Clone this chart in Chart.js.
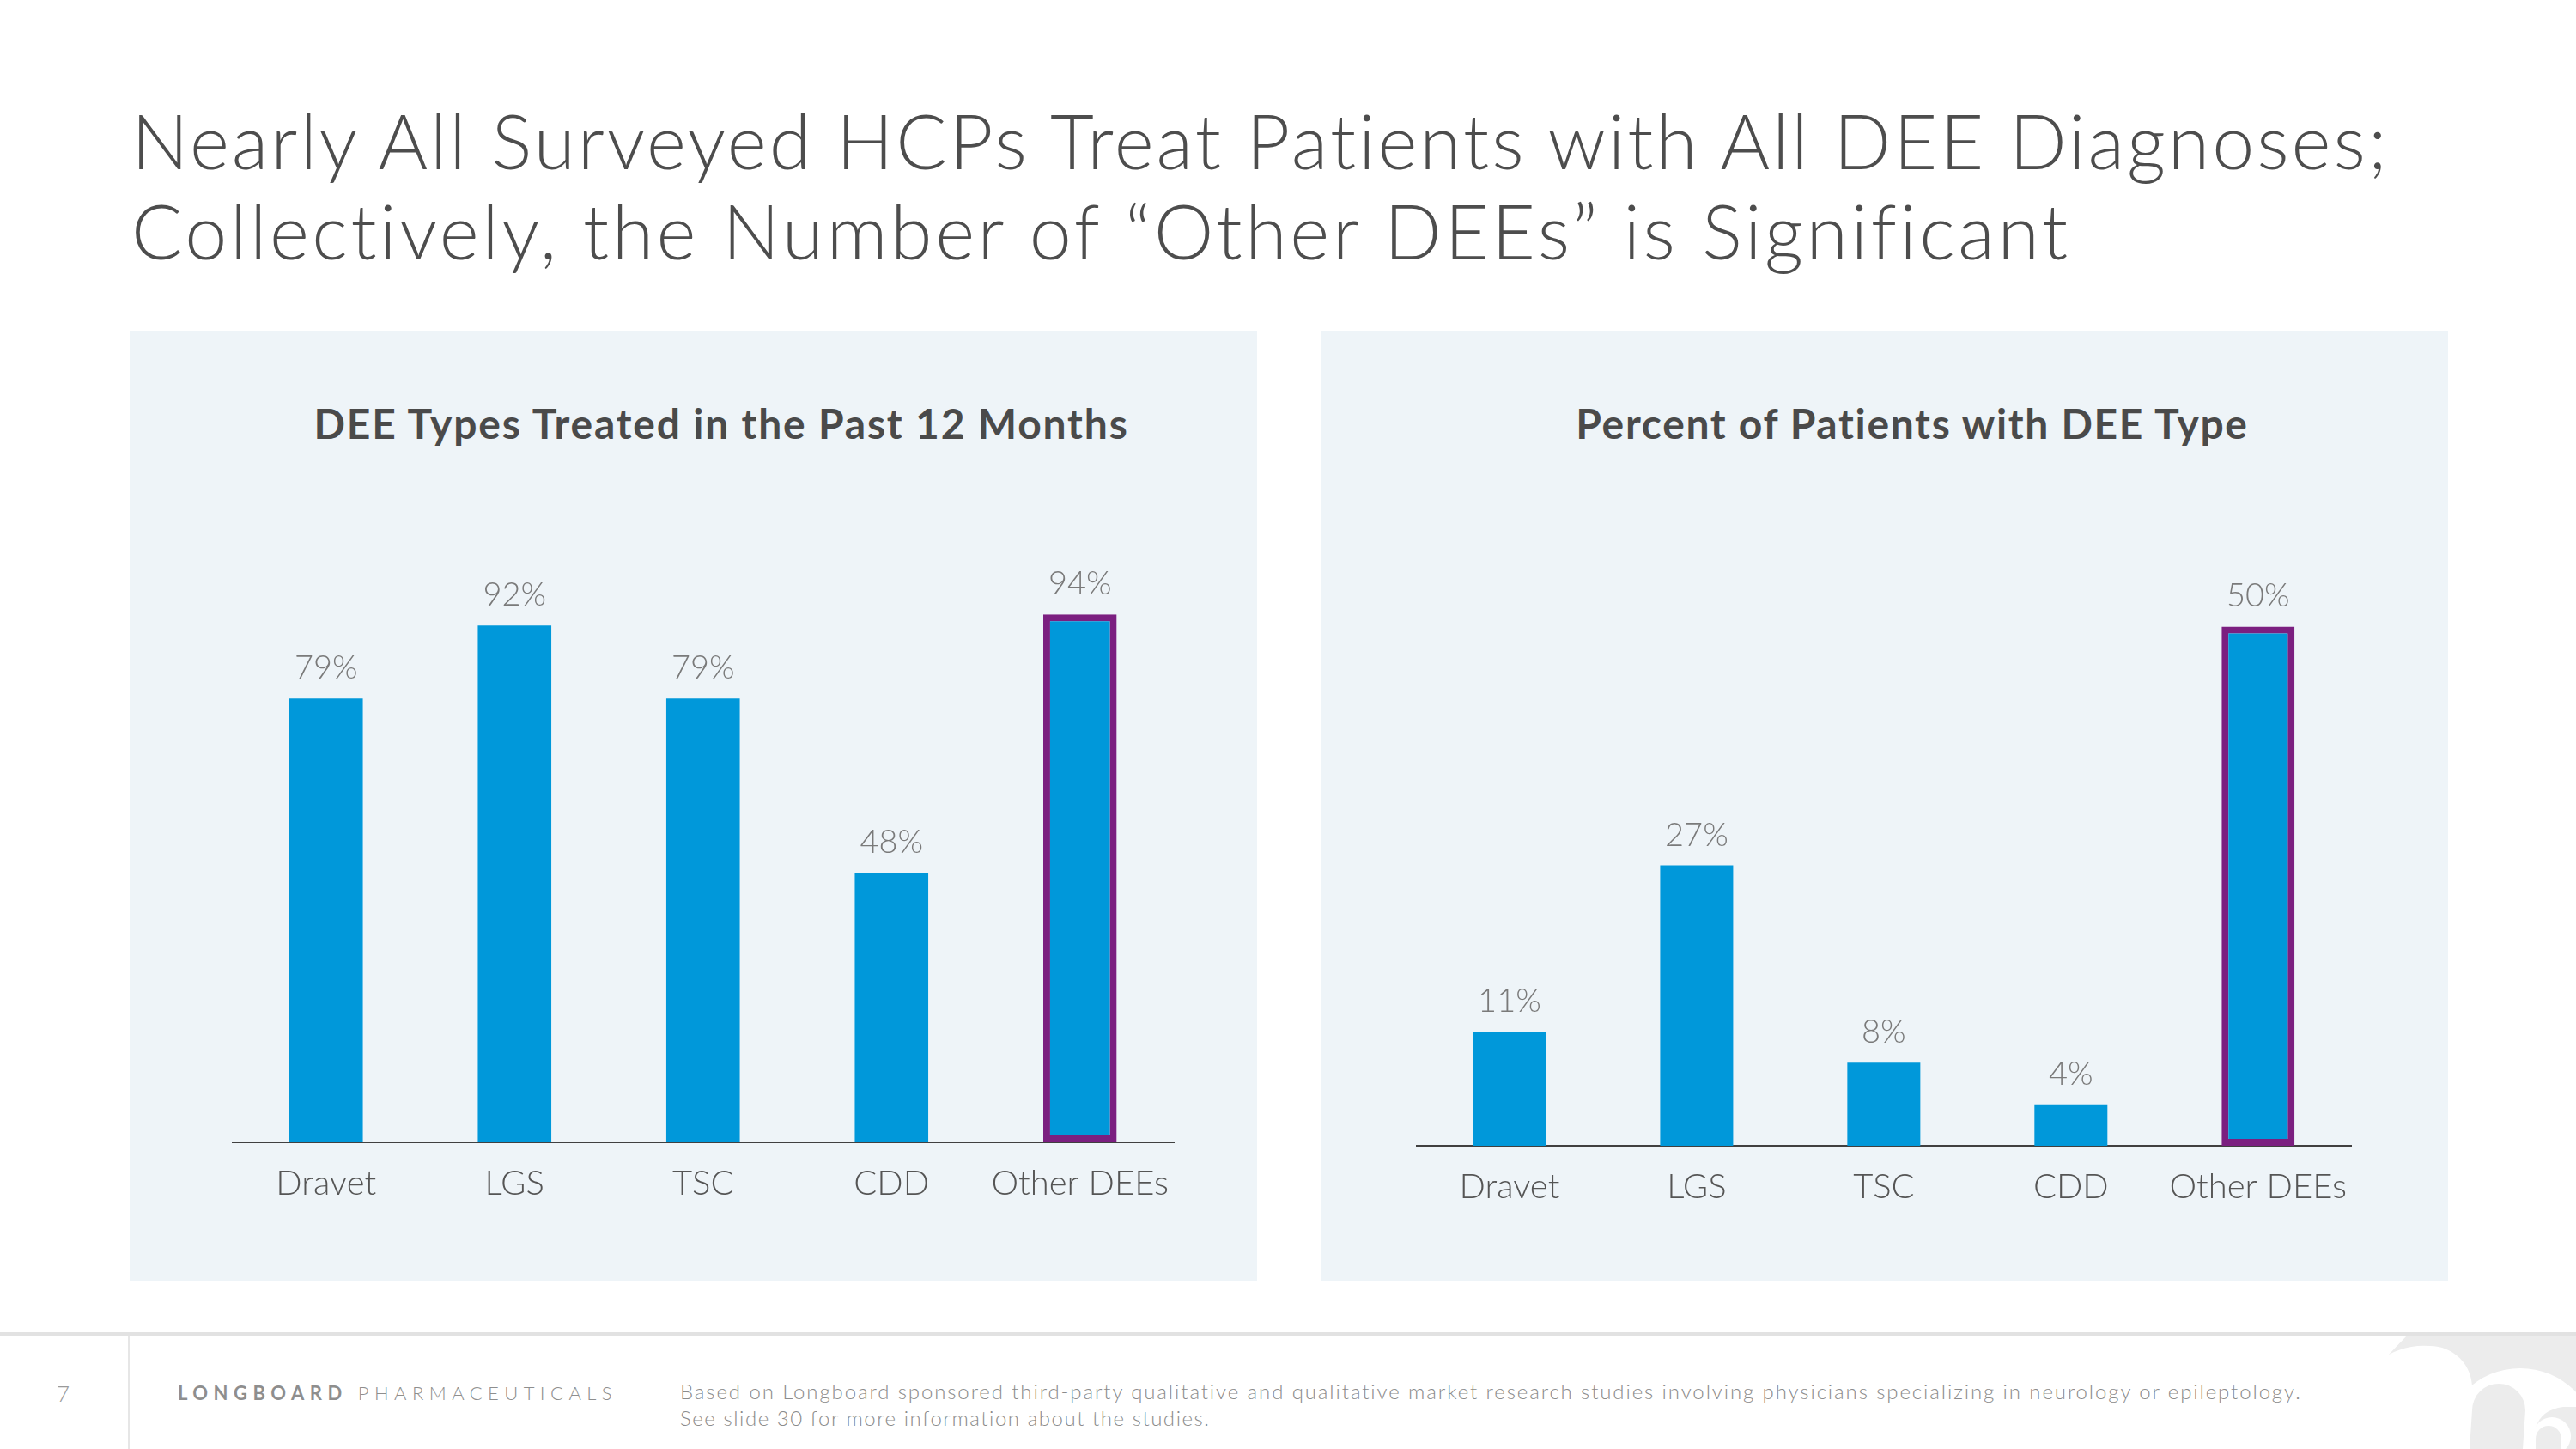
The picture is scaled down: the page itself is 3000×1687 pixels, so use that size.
<!DOCTYPE html>
<html>
<head>
<meta charset="utf-8">
<script src="https://cdn.jsdelivr.net/npm/chart.js@4.4.0/dist/chart.umd.min.js"></script>
<style>
  html, body { margin:0; padding:0; background:#fff; }
  body { width:3000px; height:1687px; position:relative; overflow:hidden; font-family:Lato, "Open Sans", sans-serif; }
  .t { position:absolute; white-space:nowrap; }
  .title { left:153px; font-size:88px; line-height:105px; font-weight:300; color:#4d4d4d; }
  .panel { position:absolute; top:385px; width:1313px; height:1106px; background:#eef4f8; }
  .ptitle { font-size:48px; line-height:58px; font-weight:700; color:#4a4a4a; transform:translateX(-50%); }
  .chartbox { position:absolute; }
  .foot { color:#8c8c8c; font-size:24px; line-height:30px; font-weight:300; }
</style>
</head>
<body>
<div class="t title fit" data-w="2631" style="top:111px">Nearly All Surveyed HCPs Treat Patients with All DEE Diagnoses;</div>
<div class="t title fit" data-w="2258" style="top:216px">Collectively, the Number of “Other DEEs” is Significant</div>

<div class="panel" style="left:151px"></div>
<div class="panel" style="left:1538px"></div>

<div class="t ptitle fit" data-w="949" style="left:840px;top:464px">DEE Types Treated in the Past 12 Months</div>
<div class="t ptitle fit" data-w="784" style="left:2227px;top:464px">Percent of Patients with DEE Type</div>

<div class="chartbox" style="left:270px;top:580px;width:1115px;height:850px"><canvas id="leftChart"></canvas></div>
<div class="chartbox" style="left:1649px;top:580px;width:1108px;height:854px"><canvas id="rightChart"></canvas></div>

<!-- footer -->
<svg style="position:absolute;left:2760px;top:1555px" width="240" height="132" viewBox="2760 1555 240 132">
  <path d="M2803 1555 L3000 1555 L3000 1687 L2760 1687 L2760 1599 L2782 1577 Z" fill="#ececec"/>
  <path d="M2782 1577 Q2805 1565 2830 1567 A49 49 0 0 1 2879 1616 Q2878 1660 2867 1687 L2760 1687 L2760 1577 Z" fill="#ffffff"/>
  <circle cx="2935" cy="1683" r="90" fill="#ffffff"/>
  <path d="M2879 1642 A31 31 0 0 1 2941 1642 L2938 1687 L2876 1687 Z" fill="#ececec"/>
  <path d="M2953 1687 L2953 1662 Q2960 1641 2985 1638 L3000 1638 L3000 1687 Z" fill="#ececec"/>
  <circle cx="2972" cy="1672" r="22" fill="#ffffff"/>
  <path d="M2953 1675 A15 15 0 0 1 2983 1675 L2983 1687 L2953 1687 Z" fill="#ececec"/>
</svg>
<div style="position:absolute;left:0;top:1551px;width:3000px;height:4px;background:#e2e2e2"></div>
<div style="position:absolute;left:149px;top:1555px;width:2px;height:132px;background:#e6e6e6"></div>
<div class="t foot" style="left:66px;top:1607px;font-size:26px;color:#9a9a9a">7</div>
<div class="t foot fit" data-w="512" style="left:207px;top:1607px;font-size:22px;color:#8e8e8e;font-weight:400"><b style="font-weight:700">LONGBOARD</b> <span style="font-weight:300">PHARMACEUTICALS</span></div>
<div class="t foot fit" data-w="1890" style="left:792px;top:1605px">Based on Longboard sponsored third-party qualitative and qualitative market research studies involving physicians specializing in neurology or epileptology.</div>
<div class="t foot fit" data-w="618" style="left:792px;top:1636px">See slide 30 for more information about the studies.</div>

<script>
// data
const categories = ["Dravet", "LGS", "TSC", "CDD", "Other DEEs"];
const treatedPct = [79, 92, 79, 48, 94];
const patientPct = [11, 27, 8, 4, 50];

const barBlue = "#0098da";
const purple = "#7b1f80";

// draws "xx%" above each bar
const valueLabels = {
  id: 'valueLabels',
  afterDatasetsDraw(chart) {
    const ctx = chart.ctx;
    const meta = chart.getDatasetMeta(0);
    ctx.save();
    ctx.font = '300 38px Lato, "Open Sans", sans-serif';
    ctx.fillStyle = '#7a7a7a';
    ctx.textAlign = 'center';
    ctx.textBaseline = 'alphabetic';
    meta.data.forEach((bar, i) => {
      ctx.fillText(chart.data.datasets[0].data[i] + '%', bar.x, bar.y - 23);
    });
    ctx.restore();
  }
};

function makeChart(id, values, max, padTop){
  var ctx = document.getElementById(id).getContext('2d');
  return new Chart(ctx, {
    type: 'bar',
    data: {
      labels: categories,
      datasets: [{
        data: values,
        backgroundColor: barBlue,
        borderColor: values.map((v, i) => i == values.length - 1 ? purple : barBlue),
        borderWidth: values.map((v, i) => i == values.length - 1 ? 8 : 0),
        borderSkipped: false,
        categoryPercentage: 1,
        barPercentage: 0.39
      }]
    },
    options: {
      responsive: true,
      maintainAspectRatio: false,
      animation: false,
      layout: { padding: { top: padTop, left: 0, right: 0, bottom: 0 } },
      plugins: { legend: { display: false }, tooltip: { enabled: false } },
      scales: {
        x: {
          grid: { display: false, drawTicks: false },
          border: { display: true, color: '#404040', width: 2 },
          ticks: { color: '#555555', font: { family: 'Lato', size: 40, weight: 300 }, padding: 24 },
          afterFit: s => { s.height = 100; }
        },
        y: { display: false, min: 0, max: max }
      }
    },
    plugins: [valueLabels]
  });
}

function fitText(){
  document.querySelectorAll('.fit').forEach(el => {
    const target = +el.dataset.w;
    const w = el.getBoundingClientRect().width;
    const n = el.textContent.length;
    el.style.letterSpacing = ((target - w) / n).toFixed(2) + 'px';
  });
}

document.fonts.ready.then(() => {
  fitText();
  makeChart('leftChart', treatedPct, 100, 96);
  makeChart('rightChart', patientPct, 55, 89);
});
</script>
</body>
</html>
